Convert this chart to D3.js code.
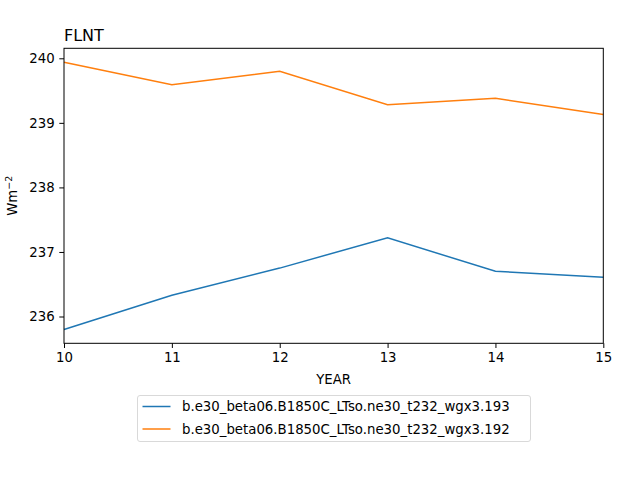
<!DOCTYPE html>
<html>
<head>
<meta charset="utf-8">
<script src="https://cdn.jsdelivr.net/npm/d3@7"></script>
<style>
  body { margin: 0; background: #fff; }
  text { font-family: "DejaVu Sans", sans-serif; fill: #000; }
</style>
</head>
<body>
<div id="chart"></div>
<script>
// data
var years = [10, 11, 12, 13, 14, 15];
var run193 = [235.80, 236.33, 236.75, 237.22, 236.70, 236.61];
var run192 = [239.94, 239.59, 239.80, 239.28, 239.38, 239.13];
var seriesNames = ["b.e30_beta06.B1850C_LTso.ne30_t232_wgx3.193",
                   "b.e30_beta06.B1850C_LTso.ne30_t232_wgx3.192"];
var seriesColors = ["#1f77b4", "#ff7f0e"];
var yTicks = [236, 237, 238, 239, 240];

var W = 640, H = 480;
var margin = {top: 48.3, right: 36.7, bottom: 136.7, left: 64};
var width = W - margin.left - margin.right,
    height = H - margin.top - margin.bottom;

var svg = d3.select("#chart").append("svg")
    .attr("width", W)
    .attr("height", H);

var g = svg.append("g")
    .attr("transform", "translate(" + margin.left + "," + margin.top + ")");

var x = d3.scaleLinear().domain([10, 15]).range([0, width]);
var y = d3.scaleLinear().domain([235.585, 240.155]).range([height, 0]);

// lines
var line = d3.line()
    .x(function(d) { return x(d[0]); })
    .y(function(d) { return y(d[1]); });

[run193, run192].forEach(function(vals, i) {
  g.append("path")
      .datum(years.map(function(yr, j) { return [yr, vals[j]]; }))
      .attr("fill", "none")
      .attr("stroke", seriesColors[i])
      .attr("stroke-width", 1.5)
      .attr("d", line);
});

// axes
var xAxis = g.append("g")
    .attr("transform", "translate(0," + height + ")")
    .call(d3.axisBottom(x).tickValues(years).tickFormat(d3.format("d")).tickSize(4.7).tickPadding(4.7));
var yAxis = g.append("g")
    .call(d3.axisLeft(y).tickValues(yTicks).tickFormat(d3.format("d")).tickSize(4.7).tickPadding(4.7));

[xAxis, yAxis].forEach(function(a) {
  a.select(".domain").remove();
  a.selectAll("line").attr("stroke", "#000").attr("stroke-width", 1);
  a.selectAll("text").attr("font-size", "13.3px").attr("font-family", "DejaVu Sans");
});

// frame
g.append("rect")
    .attr("width", width)
    .attr("height", height)
    .attr("fill", "none")
    .attr("stroke", "#000")
    .attr("stroke-width", 1);

// title and labels
g.append("text")
    .attr("x", 0)
    .attr("y", -7)
    .attr("font-size", "16px")
    .text("FLNT");

svg.append("text")
    .attr("x", margin.left + width / 2)
    .attr("y", 384)
    .attr("text-anchor", "middle")
    .attr("font-size", "13.3px")
    .text("YEAR");

var yl = svg.append("text")
    .attr("transform", "translate(17," + (margin.top + height / 2) + ") rotate(-90)")
    .attr("text-anchor", "middle")
    .attr("font-size", "13.3px");
yl.append("tspan").text("Wm");
yl.append("tspan").attr("dy", -5).attr("font-size", "9.5px").text("\u22122");

// legend
var leg = svg.append("g").attr("transform", "translate(137.5,395.5)");
leg.append("rect")
    .attr("width", 393)
    .attr("height", 46)
    .attr("rx", 2.5)
    .attr("fill", "#fff")
    .attr("stroke", "#d9d9d9")
    .attr("stroke-width", 1);

seriesNames.forEach(function(name, i) {
  var row = leg.append("g").attr("transform", "translate(0," + (11 + i * 22.5) + ")");
  row.append("line")
      .attr("x1", 5).attr("x2", 33)
      .attr("stroke", seriesColors[i])
      .attr("stroke-width", 1.5);
  row.append("text")
      .attr("x", 44.5)
      .attr("dy", "0.35em")
      .attr("font-size", "13.3px")
      .text(name);
});
</script>
</body>
</html>
